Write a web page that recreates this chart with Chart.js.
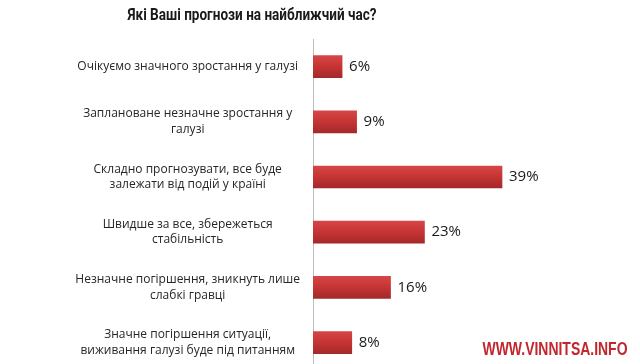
<!DOCTYPE html>
<html>
<head>
<meta charset="utf-8">
<script src="https://cdn.jsdelivr.net/npm/chart.js@4"></script>
<style>
  html, body { margin: 0; padding: 0; background: #fff; overflow: hidden; }
  #wrap { width: 640px; height: 391px; position: relative; }
</style>
</head>
<body>
<div id="wrap"><canvas id="forecastChart"></canvas></div>
<script>
const chartTitle = "Які Ваші прогнози на найближчий час?";
const watermark = "WWW.VINNITSA.INFO";

const categories = [
  ["Очікуємо значного зростання у галузі"],
  ["Заплановане незначне зростання у", "галузі"],
  ["Складно прогнозувати, все буде", "залежати від подій у країні"],
  ["Швидше за все, збережеться", "стабільність"],
  ["Незначне погіршення, зникнуть лише", "слабкі гравці"],
  ["Значне погіршення ситуації,", "виживання галузі буде під питанням"]
];
const shares = [6, 9, 39, 23, 16, 8];

// red bar with a slight top-to-bottom shading
function barFill(ctx) {
  const chart = ctx.chart;
  const y = chart.scales && chart.scales.y;
  const c = y ? y.getPixelForValue(ctx.dataIndex) : NaN;
  if (!Number.isFinite(c)) return "#c63535";
  const g = chart.ctx.createLinearGradient(0, c - 11, 0, c + 11);
  g.addColorStop(0, "#d64646");
  g.addColorStop(0.45, "#c83535");
  g.addColorStop(1, "#a4292a");
  return g;
}

// draw text squeezed to a given width (the original uses narrow fonts)
function fitText(ctx, text, cx, y, width) {
  const w = ctx.measureText(text).width;
  ctx.save();
  ctx.translate(cx, y);
  ctx.scale(width / w, 1);
  ctx.textAlign = "center";
  ctx.fillText(text, 0, 0);
  ctx.restore();
}

const extras = {
  id: "extras",
  afterDraw(chart) {
    const ctx = chart.ctx;
    ctx.save();
    // title
    ctx.fillStyle = "#1a1a1a";
    ctx.font = "bold 16px Roboto";
    ctx.textBaseline = "alphabetic";
    fitText(ctx, chartTitle, 252, 20, 249);

    // value labels
    ctx.font = "15px 'Open Sans'";
    ctx.textAlign = "left";
    ctx.textBaseline = "middle";
    ctx.fillStyle = "#1a1a1a";
    chart.getDatasetMeta(0).data.forEach((bar, i) => {
      ctx.fillText(shares[i] + "%", bar.x + 7, bar.y);
    });

    // site mark
    ctx.font = "bold 18px 'Liberation Sans'";
    ctx.fillStyle = "#c1272d";
    ctx.textBaseline = "alphabetic";
    fitText(ctx, watermark, 555, 355, 145);
    ctx.restore();
  }
};

new Chart(document.getElementById("forecastChart"), {
  type: "bar",
  data: {
    labels: categories,
    datasets: [{
      data: shares,
      backgroundColor: barFill,
      barThickness: 22,
      borderWidth: 0
    }]
  },
  options: {
    indexAxis: "y",
    responsive: true,
    maintainAspectRatio: false,
    animation: false,
    layout: { padding: { top: 39, right: 12, bottom: 2, left: 0 } },
    plugins: {
      legend: { display: false },
      tooltip: { enabled: false }
    },
    scales: {
      x: {
        display: false,
        min: 0,
        max: 65
      },
      y: {
        afterFit(scale) { scale.width = 313; },
        grid: { display: false, drawTicks: false },
        border: { display: true, color: "#bfbfbf", width: 1 },
        ticks: {
          crossAlign: "center",
          padding: 13,
          color: "#262626",
          font: { family: "'Open Sans'", size: 12, lineHeight: 1.3 }
        }
      }
    }
  },
  plugins: [extras]
});
</script>
</body>
</html>
